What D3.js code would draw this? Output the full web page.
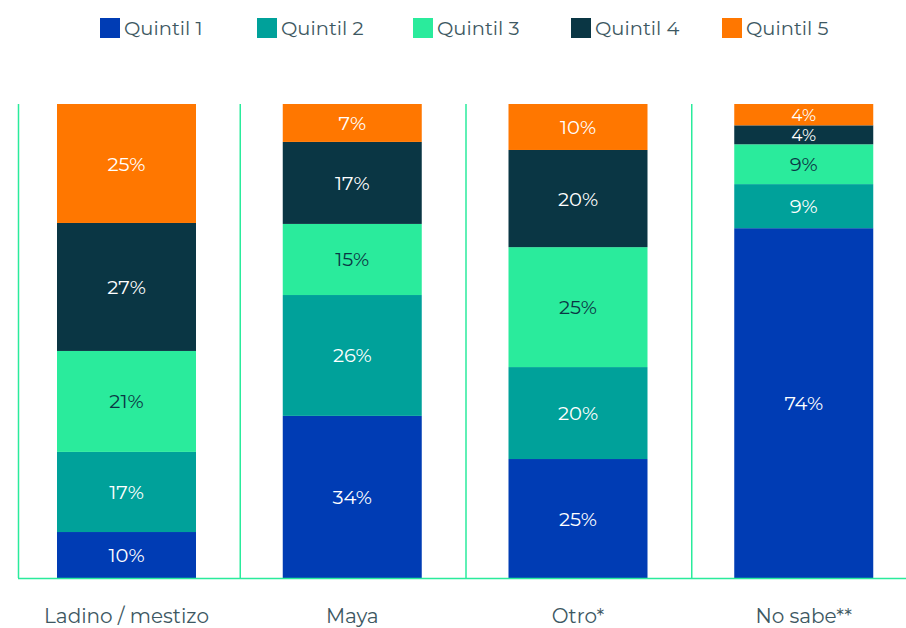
<!DOCTYPE html>
<html lang="es">
<head>
<meta charset="utf-8">
<title>Quintiles por pertenencia étnica</title>
<script src="https://cdn.jsdelivr.net/npm/d3@7"></script>
<style>
  body { margin: 0; background: #fff; }
  svg text { font-family: "Montserrat", "Open Sans", sans-serif; }
</style>
</head>
<body>
<svg id="chart" width="906" height="628"></svg>
<script>
// categories and series
var categories = ["Ladino / mestizo", "Maya", "Otro*", "No sabe**"];
var quintiles = ["Quintil 1", "Quintil 2", "Quintil 3", "Quintil 4", "Quintil 5"];
var colors = ["#003cb4", "#00a19a", "#2aeb9c", "#0a3644", "#ff7700"];

// share of each quintile per category
var q1 = [9.7, 34.2, 25.1, 73.8];
var q2 = [16.9, 25.5, 19.4, 9.3];
var q3 = [21.3, 15.0, 25.3, 8.4];
var q4 = [27.0, 17.3, 20.5, 4.0];
var q5 = [25.1, 8.0, 9.7, 4.5];

// labels as printed on the chart
var l1 = ["10%", "34%", "25%", "74%"];
var l2 = ["17%", "26%", "20%", "9%"];
var l3 = ["21%", "15%", "25%", "9%"];
var l4 = ["27%", "17%", "20%", "4%"];
var l5 = ["25%", "7%", "10%", "4%"];

var series = [q1, q2, q3, q4, q5];
var labels = [l1, l2, l3, l4, l5];

var rows = categories.map(function(c, i) {
  var r = {cat: c};
  quintiles.forEach(function(q, j) { r[q] = series[j][i]; });
  return r;
});

var svg = d3.select("#chart");
var lineColor = "#2aeb9c";
var textColor = "#3d5862";

// scales
var x = d3.scaleBand()
    .domain(categories)
    .range([14, 917])
    .padding(0);
var barWidth = 139;
var barOffset = 43;

var y = d3.scaleLinear()
    .domain([0, 100])
    .range([578, 104]);

var stack = d3.stack().keys(quintiles);
var stacked = stack(rows);

// separators between groups
svg.append("g")
  .selectAll("line")
  .data(categories.slice(1))
  .enter().append("line")
    .attr("x1", function(d) { return x(d) + 0.5; })
    .attr("x2", function(d) { return x(d) + 0.5; })
    .attr("y1", y(100))
    .attr("y2", y(0))
    .attr("stroke", lineColor)
    .attr("stroke-width", 1.5);

// left axis line
svg.append("line")
  .attr("x1", 18.5).attr("x2", 18.5)
  .attr("y1", y(100)).attr("y2", y(0))
  .attr("stroke", lineColor)
  .attr("stroke-width", 1.5);

// bars
var layer = svg.append("g")
  .selectAll("g")
  .data(stacked)
  .enter().append("g")
    .attr("fill", function(d, i) { return colors[i]; });

layer.selectAll("rect")
  .data(function(d) { return d; })
  .enter().append("rect")
    .attr("x", function(d) { return x(d.data.cat) + barOffset; })
    .attr("width", barWidth)
    .attr("y", function(d) { return y(d[1]); })
    .attr("height", function(d) { return y(d[0]) - y(d[1]); });

// value labels (a bit smaller in the thin segments)
layer.each(function(s, si) {
  d3.select(this).selectAll("text")
    .data(s)
    .enter().append("text")
      .attr("x", function(d) { return x(d.data.cat) + barOffset + barWidth / 2; })
      .attr("y", function(d) { return (y(d[0]) + y(d[1])) / 2; })
      .attr("dy", "0.36em")
      .attr("text-anchor", "middle")
      .attr("font-size", function(d) { return y(d[0]) - y(d[1]) < 24 ? 17 : 19.5; })
      .attr("fill", si == 2 ? "#0a3644" : "#ffffff")
      .text(function(d, i) { return labels[si][i]; });
});

// bottom axis
var xAxis = d3.axisBottom(x).tickSize(0).tickPadding(31);
var axisG = svg.append("g")
  .attr("transform", "translate(" + (barOffset + barWidth / 2 - x.bandwidth() / 2) + "," + y(0) + ")")
  .call(xAxis);
axisG.select(".domain").remove();
axisG.selectAll("text")
  .attr("font-size", 20)
  .attr("fill", textColor);

svg.append("line")
  .attr("x1", 18).attr("x2", 906)
  .attr("y1", y(0) + 0.5).attr("y2", y(0) + 0.5)
  .attr("stroke", lineColor)
  .attr("stroke-width", 1.5);

// legend
var legendX = [100, 257, 413, 571, 722];
var legend = svg.append("g")
  .selectAll("g")
  .data(quintiles)
  .enter().append("g")
    .attr("transform", function(d, i) { return "translate(" + legendX[i] + ",18)"; });

legend.append("rect")
  .attr("width", 20)
  .attr("height", 20)
  .attr("fill", function(d, i) { return colors[i]; });

legend.append("text")
  .attr("x", 24)
  .attr("y", 10)
  .attr("dy", "0.36em")
  .attr("font-size", 19.5)
  .attr("fill", textColor)
  .text(function(d) { return d; });
</script>
</body>
</html>
